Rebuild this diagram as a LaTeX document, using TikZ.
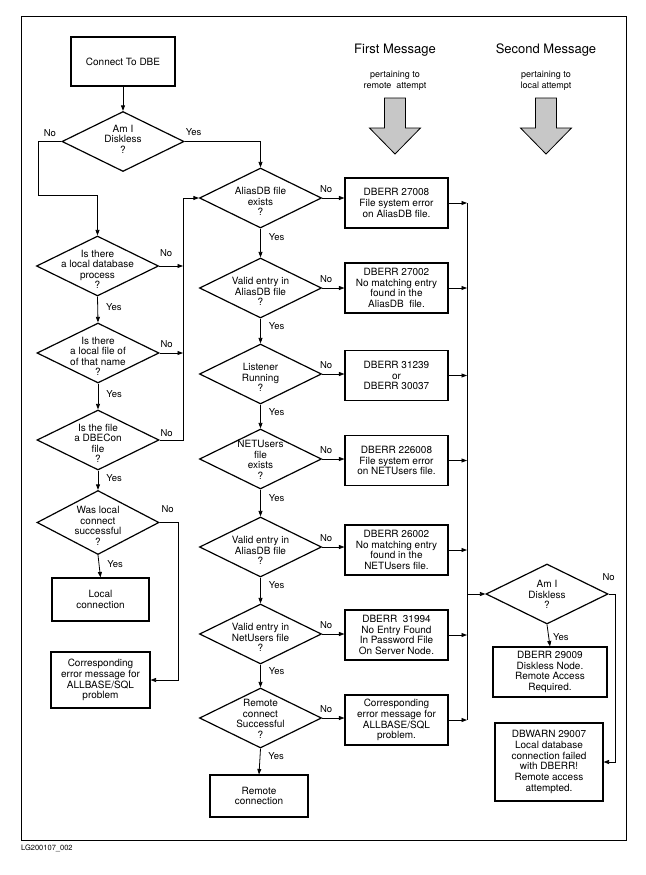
\documentclass[tikz,border=0pt]{standalone}
\usepackage{fontspec}
\setmainfont{TeX Gyre Heros}
\usepackage{tikz}
\usetikzlibrary{arrows.meta}
\usetikzlibrary{shapes.geometric}
\newcommand{\qtext}[2][-7.5pt]{\makebox[0pt]{\smash{\raisebox{#1}{\begin{tabular}{@{}c@{}}#2\end{tabular}}}}}
\newcommand{\bigarrow}{\draw[line width=0.8pt, fill=black!22] (-10.5,0) -- (10.5,0) -- (10.5,30) -- (25.5,30) -- (0,56) -- (-25.5,30) -- (-10.5,30) -- cycle;}
\tikzset{
	msgbox/.style={draw, line width=1.1pt, rectangle, align=center, inner sep=1pt, font=\fontsize{10}{10.8}\selectfont},
	errbox/.style={msgbox, minimum width=103pt, minimum height=50pt},
	query/.style={draw, line width=1.2pt, diamond, inner sep=0pt, minimum width=122pt, minimum height=60pt, font=\fontsize{10}{10.5}\selectfont},
	flow/.style={line width=0.8pt, -{Triangle[length=5.5pt,width=4pt]}},
	link/.style={line width=0.8pt},
	yeslab/.style={anchor=west, pos=0.4, inner sep=0pt, xshift=8pt, font=\fontsize{9.5}{10}\selectfont},
	nolab/.style={anchor=south, inner sep=0pt, xshift=4pt, yshift=5pt, font=\fontsize{9.5}{10}\selectfont},
	headlab/.style={font=\fontsize{13}{14}\selectfont, inner sep=0pt},
	sublab/.style={align=center, inner sep=0pt, font=\fontsize{9}{11}\selectfont}
}

\begin{document}
\begin{tikzpicture}[x=1pt, y=-1pt]

					\useasboundingbox (0,0) rectangle (645,875);
					\draw[line width=0.9pt] (21,16) rectangle (626,840);

					\node[headlab] (first) at (395,50) {First Message};
					\node[sublab] (firstsub) at (395,81) {pertaining to\\remote\ \ attempt};
					\node[headlab] (second) at (546,50) {Second Message};
					\node[sublab] (secondsub) at (546,81) {pertaining to\\local attempt};

					\begin{scope}[shift={(395,98)}]
						\bigarrow
					\end{scope}

					\begin{scope}[shift={(546,98)}]
						\bigarrow
					\end{scope}

					\node[msgbox, minimum width=104pt, minimum height=49pt] (start) at (123,61.5) {Connect To DBE};
					\node[query] (d0) at (123,141.5) {\qtext[-1.5pt]{Am I\\Diskless\\?}};

					\node[query] (la) at (97.5,266) {\qtext{Is there\\a local database\\process\\?}};
					\node[query] (lb) at (98,353) {\qtext{Is there\\a local file of\\of that name\\?}};
					\node[query] (lc) at (98,440) {\qtext{Is the file\\a DBECon\\file\\?}};
					\node[query, minimum height=64pt] (ld) at (98,522.5) {\qtext{Was local\\connect\\successful\\?}};
					\node[msgbox, minimum width=97pt, minimum height=43pt] (localok) at (100.5,599.5) {Local\\connection};
					\node[msgbox, minimum width=99pt, minimum height=56pt] (localerr) at (100.5,680) {Corresponding\\error message for\\ALLBASE/SQL\\problem};

					\node[query] (m1) at (260.5,198) {\qtext{AliasDB file\\exists\\?}};
					\node[query] (m2) at (260.5,288) {\qtext{Valid entry in\\AliasDB file\\?}};
					\node[query] (m3) at (260.5,374) {\qtext{Listener\\Running\\?}};
					\node[query] (m4) at (260.5,459) {\qtext[-5pt]{NETUsers\\file\\exists\\?}};
					\node[query] (m5) at (260.5,547) {\qtext{Valid entry in\\AliasDB file\\?}};
					\node[query] (m6) at (260.5,634) {\qtext{Valid entry in\\NetUsers file\\?}};
					\node[query] (m7) at (260.5,718) {\qtext[-5pt]{Remote\\connect\\Successful\\?}};
					\node[msgbox, minimum width=98pt, minimum height=42pt] (remote) at (259,796) {Remote\\connection};

					\node[errbox] (e1) at (396.5,203) {DBERR 27008\\File system error\\on AliasDB file.};
					\node[errbox] (e2) at (396.5,288) {DBERR 27002\\No matching entry\\found in the\\AliasDB\ \ file.};
					\node[errbox] (e3) at (396.5,375.5) {DBERR 31239\\or\\DBERR 30037};
					\node[errbox] (e4) at (396.5,460.5) {DBERR 226008\\File system error\\on NETUsers file.};
					\node[errbox] (e5) at (396.5,550) {DBERR 26002\\No matching entry\\found in the\\NETUsers file.};
					\node[errbox] (e6) at (396.5,635) {DBERR\ \ 31994\\No Entry Found\\In Password File\\On Server Node.};
					\node[errbox] (e7) at (396.5,720) {Corresponding\\error message for\\ALLBASE/SQL\\problem.};

					\node[query] (d2) at (547,594) {\qtext[-4.5pt]{Am I\\Diskless\\?}};
					\node[msgbox, minimum width=114pt, minimum height=50pt] (diskless) at (550,672) {DBERR 29009\\Diskless Node.\\Remote Access\\Required.};
					\node[msgbox, minimum width=108pt, minimum height=78pt] (dbwarn) at (549,762) {DBWARN 29007\\Local database\\connection failed\\with DBERR!\\Remote access\\attempted.};

					\coordinate (lturn) at (38,195);
					\coordinate (lbus) at (183,198);
					\coordinate (bus) at (467,594);

					\draw[flow] (start.south) -- (d0.north);
					\draw[flow] (d0.west) node[nolab, anchor=south east, xshift=-9pt, yshift=-1pt]{No} -| (lturn) -| (la.north);
					\draw[flow] (d0.east) node[nolab, xshift=5pt, yshift=0pt]{Yes} -| (m1.north);

					\draw[flow] (la.south) -- node[yeslab]{Yes} (lb.north);
					\draw[flow] (lb.south) -- node[yeslab]{Yes} (lc.north);
					\draw[flow] (lc.south) -- node[yeslab]{Yes} (ld.north);
					\draw[flow] (ld.south) -- node[yeslab]{Yes} (localok.north);
					\draw[flow] (la.east) node[nolab, xshift=3pt, yshift=4pt]{No} -- (la.east -| lbus);
					\draw[flow] (lb.east) node[nolab, xshift=3pt]{No} -- (lb.east -| lbus);
					\draw[flow] (lc.east) node[nolab, xshift=3pt, yshift=-2pt]{No} -| (lbus) -- (m1.west);
					\draw[flow] (ld.east) node[nolab, xshift=4pt, yshift=4pt]{No} -- ++(19,0) |- (localerr.east);

					\draw[flow] (m1.south) -- node[yeslab, pos=0.3]{Yes} (m2.north);
					\draw[flow] (m2.south) -- node[yeslab, pos=0.3]{Yes} (m3.north);
					\draw[flow] (m3.south) -- node[yeslab, pos=0.3]{Yes} (m4.north);
					\draw[flow] (m4.south) -- node[yeslab, pos=0.3]{Yes} (m5.north);
					\draw[flow] (m5.south) -- node[yeslab, pos=0.3]{Yes} (m6.north);
					\draw[flow] (m6.south) -- node[yeslab, pos=0.3]{Yes} (m7.north);
					\draw[flow] (m7.south) -- node[yeslab, pos=0.3]{Yes} (remote.north);

					\draw[flow] (m1.east) node[nolab]{No} -- (m1.east -| e1.west);
					\draw[flow] (m2.east) node[nolab]{No} -- (m2.east -| e2.west);
					\draw[flow] (m3.east) node[nolab]{No} -- (m3.east -| e3.west);
					\draw[flow] (m4.east) node[nolab]{No} -- (m4.east -| e4.west);
					\draw[flow] (m5.east) node[nolab]{No} -- (m5.east -| e5.west);
					\draw[flow] (m6.east) node[nolab]{No} -- (m6.east -| e6.west);
					\draw[flow] (m7.east) node[nolab]{No} -- (m7.east -| e7.west);

					\draw[flow] (e1.east) -- (e1.east -| bus);
					\draw[flow] (e2.east) -- (e2.east -| bus);
					\draw[flow] (e3.east) -- (e3.east -| bus);
					\draw[flow] (e4.east) -- (e4.east -| bus);
					\draw[flow] (e5.east) -- (e5.east -| bus);
					\draw[flow] (e6.east) -- (e6.east -| bus);
					\draw[flow] (e7.east) -- (e7.east -| bus);
					\draw[link] (e1.east -| bus) -- (e7.east -| bus);

					\draw[flow] (bus) -- (d2.west);
					\draw[flow] (d2.south) -- node[yeslab, pos=0.55, xshift=-4pt]{Yes} (diskless.north);
					\draw[flow] (d2.east) node[nolab, xshift=-4pt, yshift=8pt]{No} -- ++(7,0) |- (dbwarn.east);

					\node[anchor=west, inner sep=0pt, font=\fontsize{7.5}{8}\selectfont] (figid) at (21,848) {LG200107\_002};

\end{tikzpicture}
\end{document}
